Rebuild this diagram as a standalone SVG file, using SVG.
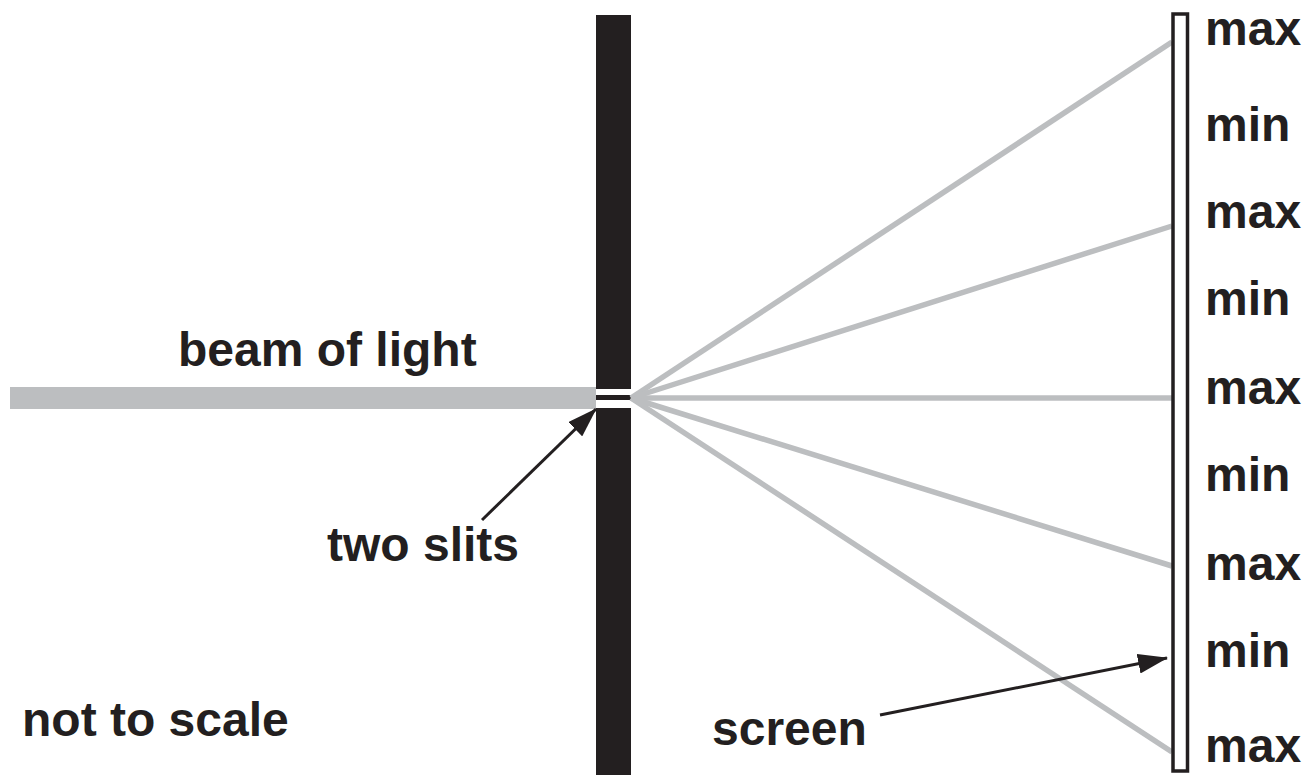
<svg xmlns="http://www.w3.org/2000/svg" width="1308" height="775" viewBox="0 0 1308 775">
<style>
.lbl{font-family:"Liberation Sans",Arial,Helvetica,sans-serif;font-weight:bold;font-size:48px;fill:#231f20}
.ray{stroke:#bcbec0;stroke-width:5.5;fill:none}
.arr{stroke:#231f20;stroke-width:3;fill:none}
</style>
<defs>
<marker id="ah2" markerWidth="30" markerHeight="20" refX="29" refY="10" orient="auto" markerUnits="userSpaceOnUse" viewBox="0 0 30 20">
<path d="M0,0 L30,10 L0,20 Z" fill="#231f20"/>
</marker>
</defs>
<rect width="1308" height="775" fill="#ffffff"/>
<g id="beam">
<rect x="10" y="387" width="586" height="22" fill="#bcbec0"/>
</g>
<g id="barrier">
<rect x="596" y="15" width="35" height="760" fill="#231f20"/>
<rect x="596" y="389" width="35" height="6" fill="#ffffff"/>
<rect x="596" y="400" width="35" height="8" fill="#ffffff"/>
</g>
<g id="connectors">
<line class="ray" x1="631" y1="398" x2="1172" y2="42"/>
<line class="ray" x1="631" y1="398" x2="1172" y2="226"/>
<line class="ray" x1="631" y1="398" x2="1172" y2="398"/>
<line class="ray" x1="631" y1="398" x2="1172" y2="566"/>
<line class="ray" x1="631" y1="398" x2="1172" y2="752"/>
<line class="arr" x1="482" y1="520" x2="596" y2="409" marker-end="url(#ah2)"/>
<line class="arr" x1="880" y1="715" x2="1167" y2="658" marker-end="url(#ah2)"/>
</g>
<g id="screen">
<rect x="1173" y="14" width="14.5" height="757" fill="#ffffff" stroke="#231f20" stroke-width="3.5"/>
</g>
<g id="labels">
<text class="lbl" x="1205" y="45">max</text>
<text class="lbl" x="1205" y="141">min</text>
<text class="lbl" x="1205" y="228">max</text>
<text class="lbl" x="1205" y="315">min</text>
<text class="lbl" x="1205" y="404">max</text>
<text class="lbl" x="1205" y="491">min</text>
<text class="lbl" x="1205" y="580">max</text>
<text class="lbl" x="1205" y="667">min</text>
<text class="lbl" x="1205" y="762">max</text>
<text class="lbl" x="178" y="366">beam of light</text>
<text class="lbl" x="327" y="561">two slits</text>
<text class="lbl" x="22" y="736">not to scale</text>
<text class="lbl" x="712" y="745">screen</text>
</g>
</svg>
